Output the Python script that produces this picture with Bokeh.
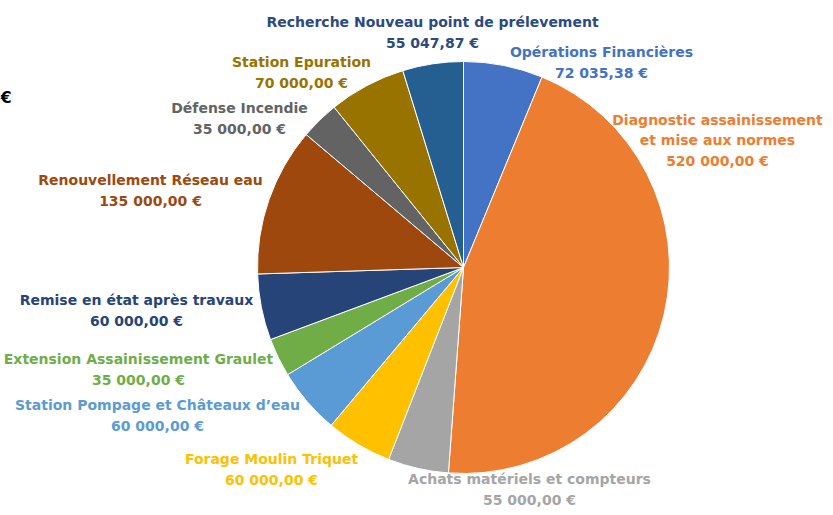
import numpy as np
from bokeh.plotting import figure
from bokeh.models import Range1d, ColumnDataSource
from bokeh.core.properties import value
from bokeh.embed import file_html
from bokeh.resources import INLINE

# ---- data ----
categories = [
    "Opérations Financières",
    "Diagnostic assainissement et mise aux normes",
    "Achats matériels et compteurs",
    "Forage Moulin Triquet",
    "Station Pompage et Châteaux d'eau",
    "Extension Assainissement Graulet",
    "Remise en état après travaux",
    "Renouvellement Réseau eau",
    "Défense Incendie",
    "Station Epuration",
    "Recherche Nouveau point de prélevement",
]
amounts = [72035.38, 520000.00, 55000.00, 60000.00, 60000.00, 35000.00,
           60000.00, 135000.00, 35000.00, 70000.00, 55047.87]
label_texts = [
    "Opérations Financières",
    "Diagnostic assainissement\net mise aux normes",
    "Achats matériels et compteurs",
    "Forage Moulin Triquet",
    "Station Pompage et Châteaux d\u2019eau",
    "Extension Assainissement Graulet",
    "Remise en état après travaux",
    "Renouvellement Réseau eau",
    "Défense Incendie",
    "Station Epuration",
    "Recherche Nouveau point de prélevement",
]
slice_colors = ["#4472C4", "#ED7D31", "#A5A5A5", "#FFC000", "#5B9BD5", "#70AD47",
                "#264478", "#9E480E", "#636363", "#997300", "#255E91"]
label_colors = ["#4472C4", "#ED7D31", "#A5A5A5", "#FFC000", "#5B9BD5", "#70AD47",
                "#264478", "#9E480E", "#636363", "#997300", "#2B4A80"]

# label layout (pixel positions, y measured from top)
label_x = [601, 717, 529, 271, 157, 138, 136, 150, 239, 301, 432]
label_y = [62, 140, 489, 469, 415, 369, 310, 190, 118, 72, 32]


def fmt_eur(v):
    s = f"{v:,.2f}".replace(",", " ").replace(".", ",")
    return s + " \u20ac"


# ---- figure ----
W, H = 825, 507
p = figure(width=W, height=H, output_backend="svg", toolbar_location=None,
           x_range=Range1d(0, W), y_range=Range1d(H, 0),
           x_axis_location=None, y_axis_location=None, min_border=0)
p.grid.visible = False
p.outline_line_color = None
p.background_fill_color = "white"

cx, cy, r = 463, 267, 206

vals = np.array(amounts)
frac = vals / vals.sum()
cum = np.concatenate([[0], np.cumsum(frac)])
# angles are drawn in screen orientation: start at 12 o'clock, go clockwise
start = np.pi / 2 - cum[:-1] * 2 * np.pi
end = np.pi / 2 - cum[1:] * 2 * np.pi

src = ColumnDataSource(dict(start=start, end=end, color=slice_colors,
                            x=[cx] * len(vals), y=[cy] * len(vals)))
p.wedge(x="x", y="y", radius=r, start_angle="start", end_angle="end",
        direction="clock", fill_color="color", line_color="white",
        line_width=1, source=src)

texts = [t + "\n" + fmt_eur(v) for t, v in zip(label_texts, amounts)]
lsrc = ColumnDataSource(dict(x=label_x, y=label_y, text=texts, color=label_colors))
p.text(x="x", y="y", text="text", text_color="color", source=lsrc,
       text_align="center", text_baseline="middle",
       text_font=value("DejaVu Sans"), text_font_style="bold",
       text_font_size="14px", text_line_height=1.27)

p.text(x=[0], y=[97], text=["\u20ac"], text_color="black",
       text_align="left", text_baseline="middle",
       text_font=value("DejaVu Sans"), text_font_style="bold",
       text_font_size="16px")

open("out.html", "w").write(file_html(p, INLINE))
